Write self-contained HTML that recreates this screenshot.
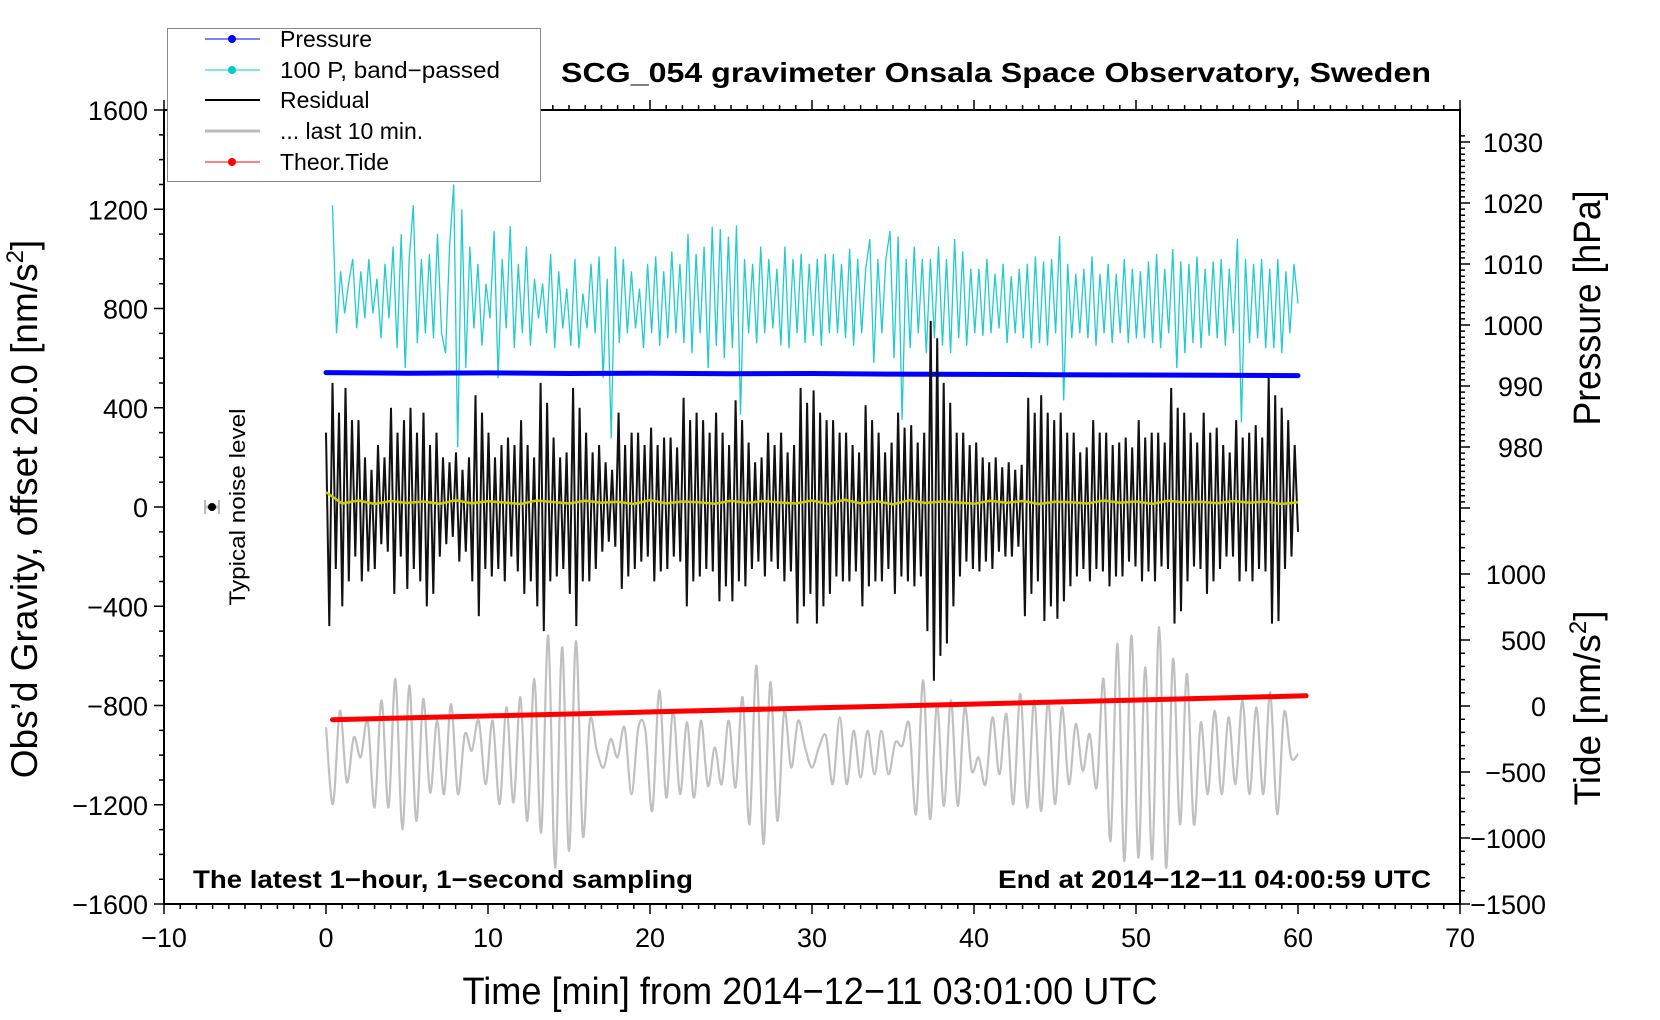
<!DOCTYPE html>
<html><head><meta charset="utf-8"><style>
html,body{margin:0;padding:0;background:#fff}
svg{display:block;font-family:"Liberation Sans",Arial,sans-serif}
</style></head><body>
<svg id="chart" width="1660" height="1020" viewBox="0 0 1660 1020" xmlns="http://www.w3.org/2000/svg">
<rect width="1660" height="1020" fill="#fff"/>
<g id="plot"></g>
<g id="axes"></g>
<text x="996" y="82" font-size="28" font-weight="bold" text-anchor="middle" textLength="870" lengthAdjust="spacingAndGlyphs">SCG_054 gravimeter Onsala Space Observatory, Sweden</text>
<text x="810" y="1004" font-size="38" text-anchor="middle" textLength="695" lengthAdjust="spacingAndGlyphs">Time [min] from 2014−12−11 03:01:00 UTC</text>
<text x="193" y="888" font-size="25" font-weight="bold" textLength="500" lengthAdjust="spacingAndGlyphs">The latest 1−hour, 1−second sampling</text>
<text x="1431" y="888" font-size="25" font-weight="bold" text-anchor="end" textLength="433" lengthAdjust="spacingAndGlyphs">End at 2014−12−11 04:00:59 UTC</text>
<text transform="translate(37,509) rotate(-90)" font-size="37" text-anchor="middle">Obs’d Gravity, offset 20.0 [nm/s<tspan font-size="24" dy="-14">2</tspan><tspan dy="14">]</tspan></text>
<text transform="translate(1600,308) rotate(-90)" font-size="38" text-anchor="middle" textLength="235" lengthAdjust="spacingAndGlyphs">Pressure [hPa]</text>
<text transform="translate(1600,708) rotate(-90)" font-size="37" text-anchor="middle">Tide [nm/s<tspan font-size="24" dy="-14">2</tspan><tspan dy="14">]</tspan></text>
<g>
<line x1="205" y1="507" x2="219" y2="507" stroke="#bbb" stroke-width="3"/>
<line x1="205" y1="500" x2="205" y2="514" stroke="#bbb" stroke-width="2"/>
<line x1="219" y1="500" x2="219" y2="514" stroke="#bbb" stroke-width="2"/>
<circle cx="212" cy="507" r="4" fill="#000"/>
<text transform="translate(245,507) rotate(-90)" font-size="22" text-anchor="middle" textLength="197" lengthAdjust="spacingAndGlyphs">Typical noise level</text>
</g>
<g id="legend">
<rect x="167.5" y="28.5" width="373" height="153" fill="#fff" stroke="#888" stroke-width="1"/>
<g><line x1="205" y1="39" x2="260" y2="39" stroke="#00f" stroke-width="1"/><circle cx="232" cy="39" r="4" fill="#00f"/><text x="280" y="47" font-size="23">Pressure</text></g>
<g><line x1="205" y1="70" x2="260" y2="70" stroke="#00cccc" stroke-width="1"/><circle cx="232" cy="70" r="4" fill="#00cccc"/><text x="280" y="78" font-size="23" textLength="220" lengthAdjust="spacingAndGlyphs">100 P, band−passed</text></g>
<g><line x1="205" y1="100" x2="260" y2="100" stroke="#000" stroke-width="2"/><text x="280" y="108" font-size="23">Residual</text></g>
<g><line x1="205" y1="131" x2="260" y2="131" stroke="#bbb" stroke-width="3"/><text x="280" y="139" font-size="23">... last 10 min.</text></g>
<g><line x1="205" y1="162" x2="260" y2="162" stroke="#f00" stroke-width="1"/><circle cx="232" cy="162" r="4" fill="#f00"/><text x="280" y="170" font-size="23">Theor.Tide</text></g>
</g>
</svg>
<script>
// ---- data ----
const xTicks = [-10,0,10,20,30,40,50,60,70];
const gravTicks = [1600,1200,800,400,0,-400,-800,-1200,-1600];
const pressTicks = [980,990,1000,1010,1020,1030];
const tideTicks = [1000,500,0,-500,-1000,-1500];
const residualStart = 0, residualEnd = 60;
const residual = [
300,-480,500,-250,380, -400,480,-300,350,-200, 350,-300,200,-260,150, -250,250,-150,200,-180,
400,-350,300,-200,350, -330,400,-250,300,-300, 380,-400,250,-350,300, -200,200,-150,180,-120,
220,-220,150,-180,200, -300,450,-440,380,-250, 300,-280,200,-250,250, -300,280,-200,250,-260,
350,-350,250,-300,200, -400,500,-500,420,-300, 280,-280,200,-250,220, -350,480,-480,400,-300,
300,-300,220,-250,250, -180,180,-140,150,-160, 380,-330,250,-280,300, -250,300,-220,250,-200,
320,-300,250,-260,280, -250,280,-200,240,-220, 440,-400,350,-300,380, -280,350,-250,300,-260,
380,-380,300,-320,250, -380,430,-300,350,-320, 260,-250,180,-220,200, -280,300,-220,250,-250,
300,-300,220,-260,250, -470,480,-400,420,-350, 470,-470,380,-400,350, -350,350,-280,300,-300,
300,-300,250,-260,220, -400,410,-320,350,-300, 300,-300,220,-250,260, -350,380,-280,320,-300,
330,-320,260,-280,300, -500,750,-700,680,-600, 500,-550,420,-400,300, -280,300,-220,250,-250,
260,-260,200,-220,180, -250,200,-180,160,-200, 180,-200,150,-160,170, -440,440,-350,380,-300,
450,-460,380,-400,350, -450,380,-380,300,-320, 300,-280,220,-250,240, -300,350,-250,300,-260,
300,-320,250,-280,260, -280,280,-220,240,-240, 350,-300,280,-260,300, -300,300,-240,260,-250,
480,-470,400,-420,380, -300,300,-240,260,-250, 380,-350,300,-300,320, -250,250,-200,220,-200,
350,-300,280,-260,300, -300,330,-250,280,-260, 520,-470,450,-460,400, -250,350,-200,250,-100];
const smoothed = [60,14,26,12,24,16,22,13,27,15,23,18,12,26,20,14,25,17,21,12,
28,15,22,19,13,25,16,24,18,14,26,12,29,15,23,11,27,16,22,18,
13,25,17,24,12,21,19,14,26,17,22,13,25,18,21,15,24,17,22,12,19];
const bandStart = 0.4, bandEnd = 60;
const bandPassed = [
1216,700,950,780, 900,1000,720,950, 760,1000,780,920, 680,980,760,1050, 640,1100,560,1000,
1216,660,1000,700, 1020,680,1100,700, 620,1050,1300,240, 1200,560,1050,720, 980,650,900,760,
1112,520,1000,720, 1132,640,980,700, 1050,650,920,760, 900,700,1020,640, 950,720,880,650,
1000,640,860,720, 980,700,1010,520, 920,277,1050,660, 1000,700,950,720, 880,640,980,700,
1010,650,950,680, 1030,700,980,660, 1100,620,1020,700, 1050,560,1130,650, 1120,600,1090,640,
1135,372,1000,700, 980,660,1050,700, 1000,720,960,650, 1050,640,1000,700, 1020,660,980,690,
1000,650,1020,700, 1020,700,980,680, 1040,650,1000,700, 960,1080,580,1000, 700,1000,1112,600,
1090,351,1000,640, 1050,700,1000,620, 1000,680,1050,650, 1000,620,1080,680, 1030,650,960,700,
960,690,1000,700, 940,720,980,660, 930,700,960,680, 980,640,1010,660, 990,650,1000,700,
1092,430,980,680, 940,700,960,680, 1010,650,940,700, 980,660,940,700, 1000,660,960,680,
950,680,990,660, 1020,640,960,700, 1040,560,990,620, 980,660,1010,640, 960,690,990,680,
1000,650,960,700, 1081,341,1000,660, 980,680,1000,640, 960,640,1000,620, 950,700,980,820];
const pressureStart = 0, pressureEnd = 60;
const pressure = [992.2,992.1,992.15,992.05,992.1,992.0,992.05,991.95,991.9,991.85,991.8,991.75,991.7];
const lastTenStart = 0, lastTenEnd = 60;
const lastTen = [-888,-1198,-821,-1110,-928,-1009,-861,-1211,-780,-1211,-693,-1299,-720,-1265,-774,-1151,-861,-1157,-794,-1157,
-915,-982,-861,-1117,-861,-1198,-807,-1191,-767,-1265,-693,-1312,-518,-1454,-565,-1386,-541,-1326,-861,-982,
-1050,-935,-1009,-888,-1157,-888,-902,-1225,-740,-1171,-821,-1157,-868,-1171,-861,-1124,-969,-1117,-861,-1131,
-767,-1279,-639,-1359,-706,-1265,-821,-1050,-861,-969,-1050,-969,-922,-1117,-848,-1117,-902,-1090,-902,-1077,
-902,-1077,-949,-962,-875,-1238,-699,-1258,-794,-1205,-780,-1205,-807,-1063,-1009,-1117,-848,-1077,-834,-1198,
-753,-1211,-780,-1225,-780,-1198,-807,-1117,-875,-1063,-915,-1131,-693,-1346,-551,-1427,-518,-1413,-646,-1420,
-484,-1454,-612,-1279,-673,-1279,-868,-1157,-821,-1157,-848,-1117,-780,-1157,-807,-1157,-747,-1238,-827,-1009,-996];
const tideStart = 0.4, tideEnd = 60.5;
const tide = [-104,-74,-44,-14,16,46,77];

// ---- scales ----
const X0=164, X1=1460, Y0=110, Y1=904;
const xs = t => X0 + (t+10)/80*(X1-X0);
const yg = g => 507 - g*(Y1-Y0)/3200;
const yp = p => 325 - (p-1000)*6.1;
const yt = v => 706 - v*0.132;
const NS='http://www.w3.org/2000/svg';
const plot=document.getElementById('plot'), axes=document.getElementById('axes');
function mk(tag, attrs, parent){const e=document.createElementNS(NS,tag);for(const k in attrs)e.setAttribute(k,attrs[k]);parent.appendChild(e);return e;}
function series(vals,t0,t1,yf){return vals.map((v,i)=>[xs(t0+(t1-t0)*i/(vals.length-1)), yf(v)]);}
function poly(pts){return pts.map((p,i)=>(i?'L':'M')+p[0].toFixed(1)+' '+p[1].toFixed(1)).join('');}
function smooth(pts){let d='M'+pts[0][0].toFixed(1)+' '+pts[0][1].toFixed(1);
 for(let i=0;i<pts.length-1;i++){const p0=pts[Math.max(0,i-1)],p1=pts[i],p2=pts[i+1],p3=pts[Math.min(pts.length-1,i+2)];
  const c1=[p1[0]+(p2[0]-p0[0])/6,p1[1]+(p2[1]-p0[1])/6],c2=[p2[0]-(p3[0]-p1[0])/6,p2[1]-(p3[1]-p1[1])/6];
  d+='C'+c1[0].toFixed(1)+' '+c1[1].toFixed(1)+' '+c2[0].toFixed(1)+' '+c2[1].toFixed(1)+' '+p2[0].toFixed(1)+' '+p2[1].toFixed(1);}
 return d;}

let e=mk('path',{d:smooth(series(lastTen,lastTenStart,lastTenEnd,yg)),fill:'none',stroke:'#c0c0c0','stroke-width':2.2},plot);


e=mk('path',{d:poly(series(bandPassed,bandStart,bandEnd,yg)),fill:'none',stroke:'#22cccc','stroke-width':1.3},plot);


e=mk('path',{d:poly(series(pressure,pressureStart,pressureEnd,yp)),fill:'none',stroke:'#0000ff','stroke-width':5,'stroke-linecap':'round'},plot);


e=mk('path',{d:poly(series(residual,residualStart,residualEnd,yg)),fill:'none',stroke:'#111','stroke-width':2},plot);


e=mk('path',{d:poly(series(smoothed,residualStart,residualEnd,yg)),fill:'none',stroke:'#cccc00','stroke-width':2.5},plot);


e=mk('path',{d:poly(series(tide,tideStart,tideEnd,yt)),fill:'none',stroke:'#ff0000','stroke-width':5,'stroke-linecap':'round'},plot);



e=mk('rect',{x:X0,y:Y0,width:X1-X0,height:Y1-Y0,fill:'none',stroke:'#000','stroke-width':2},axes);


let tk='';
for(let m=-10;m<=70;m++){const x=xs(m),L=(m%10===0)?10:5;tk+=`M${x} ${Y1}v${L}M${x} ${Y0}v${-L}`;}
for(let g=-1600;g<=1600;g+=100){const y=yg(g),L=(g%400===0)?10:5;tk+=`M${X0} ${y}h${-L}`;}
for(let p=970;p<=1031;p++){const y=yp(p);if(y<Y0)continue;const L=(p%10===0)?10:5;tk+=`M${X1} ${y}h${L}`;}
for(let v=-1500;v<=1500;v+=100){const y=yt(v),L=(v%500===0)?10:5;tk+=`M${X1} ${y}h${L}`;}
e=mk('path',{d:tk,stroke:'#000','stroke-width':1.5,fill:'none'},axes);


xTicks.forEach(t=>{const el=mk('text',{x:xs(t),y:947,'font-size':27,'text-anchor':'middle'},axes);el.textContent=String(t).replace('-','−');

});
gravTicks.forEach(g=>{const el=mk('text',{x:X0-16,y:yg(g)+10,'font-size':27,'text-anchor':'end'},axes);el.textContent=String(g).replace('-','−');

});
pressTicks.forEach(p=>{const el=mk('text',{x:1543,y:yp(p)+10,'font-size':27,'text-anchor':'end'},axes);el.textContent=String(p);

});
tideTicks.forEach(v=>{const el=mk('text',{x:1546,y:yt(v)+10,'font-size':27,'text-anchor':'end'},axes);el.textContent=String(v).replace('-','−');

});
</script>
</body></html>
